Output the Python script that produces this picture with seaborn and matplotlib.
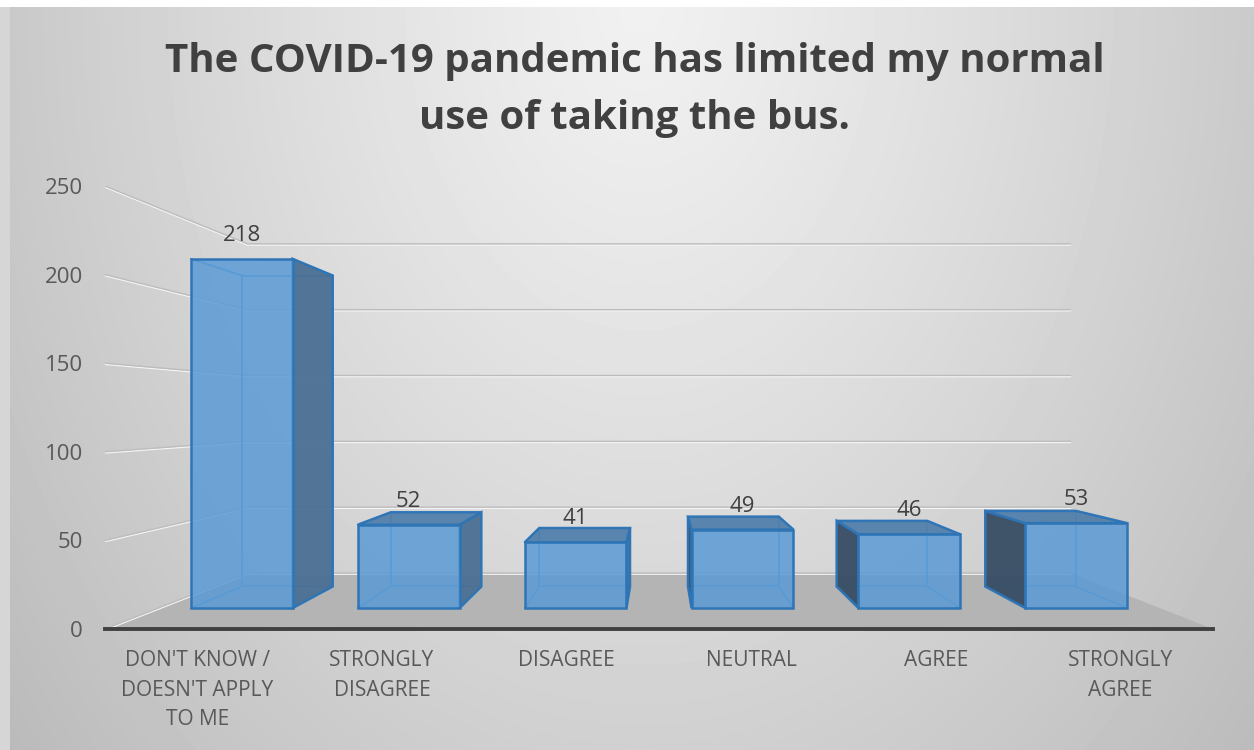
import numpy as np
import seaborn as sns
import matplotlib.pyplot as plt
from matplotlib.patches import Polygon, Rectangle
from matplotlib.transforms import Affine2D, offset_copy

# dados
categorias = ["DON'T KNOW /\nDOESN'T APPLY\nTO ME", "STRONGLY\nDISAGREE", "DISAGREE",
              "NEUTRAL", "AGREE", "STRONGLY\nAGREE"]
respostas = [218, 52, 41, 49, 46, 53]
ticks_y = [0, 50, 100, 150, 200, 250]
titulo = "The COVID-19 pandemic has limited my normal\nuse of taking the bus."

sns.set_theme(style='white')
plt.rcParams['font.family'] = ['Open Sans', 'DejaVu Sans']

fig = plt.figure(figsize=(12.54, 7.5), dpi=100)

# fundo com degradê cinza
bg = fig.add_axes([0, 0, 1, 1], zorder=-5)
yy, xx = np.mgrid[0:750, 0:1254]
r = np.sqrt(((xx - 640) / 640.0) ** 2 + (yy / 900.0) ** 2)
v = np.clip(0.945 - 0.16 * r ** 1.15, 0, 1)
bg.imshow(v, cmap='gray', vmin=0, vmax=1, extent=(0, 1, 0, 1), aspect='auto')
bg.axis('off')
fig.patches.append(Rectangle((0, 1 - 7 / 750), 1, 7 / 750, transform=fig.transFigure,
                             facecolor='white', edgecolor='none', zorder=-4))
fig.patches.append(Rectangle((0, 0), 10 / 1254, 1 - 7 / 750, transform=fig.transFigure,
                             facecolor='#d6d6d6', edgecolor='none', zorder=-4))

ax = fig.add_axes([105 / 1254, 121 / 750, 1108 / 1254, 443 / 750])
ax.set_facecolor('none')

sns.barplot(x=categorias, y=respostas, width=0.61, color='#5b9bd5', ax=ax)
barras = list(ax.containers[0])
ax.set_xlim(-0.5, 5.5)
ax.set_ylim(0, 250)

# perspectiva simples (ponto de fuga)
vp = (2.5, 123)
s_front, s_back, s_wall = 0.904, 0.805, 0.743


def persp(s):
    return Affine2D().translate(-vp[0], -vp[1]).scale(s).translate(vp[0], vp[1])


def proj(x, y, s):
    return (vp[0] + (x - vp[0]) * s, vp[1] + (y - vp[1]) * s)


# chão
chao = [proj(-0.5, 0, 1), proj(5.5, 0, 1), proj(5.5, 0, s_wall), proj(-0.5, 0, s_wall)]
ax.add_patch(Polygon(chao, closed=True, facecolor='#b4b4b4', edgecolor='none', zorder=1))

# linhas de grade (parede do fundo e lateral)
t_claro = offset_copy(ax.transData, fig=fig, x=0, y=-1.2, units='dots')
for t in ticks_y:
    pts = [proj(-0.5, t, 1), proj(-0.5, t, s_wall), proj(5.5, t, s_wall)]
    xs, ys = zip(*pts)
    ax.plot(xs, ys, color='#f4f4f4', lw=1.0, transform=t_claro, zorder=1.2)
    ax.plot(xs, ys, color='#bdbdbd', lw=1.0, zorder=1.3)

# barras em 3D
for patch, val in zip(barras, respostas):
    x0, w, h = patch.get_x(), patch.get_width(), patch.get_height()
    f = [proj(x0, 0, s_front), proj(x0 + w, 0, s_front), proj(x0 + w, h, s_front), proj(x0, h, s_front)]
    b = [proj(x0, 0, s_back), proj(x0 + w, 0, s_back), proj(x0 + w, h, s_back), proj(x0, h, s_back)]

    ax.add_patch(Polygon(b, closed=True, facecolor='none', edgecolor='#4f92d3', lw=1.2, zorder=2))
    for pf, pb in zip(f, b):
        ax.plot([pf[0], pb[0]], [pf[1], pb[1]], color='#4f92d3', lw=1.2, zorder=2)

    if b[1][0] > f[1][0]:
        ax.add_patch(Polygon([f[1], b[1], b[2], f[2]], closed=True, facecolor='#4a6f94',
                             edgecolor='#2e75b6', lw=1.8, alpha=0.95, zorder=3))
    if b[0][0] < f[0][0]:
        ax.add_patch(Polygon([f[0], b[0], b[3], f[3]], closed=True, facecolor='#374d64',
                             edgecolor='#2e75b6', lw=1.8, alpha=0.95, zorder=3))
    if b[3][1] > f[3][1]:
        ax.add_patch(Polygon([f[3], f[2], b[2], b[3]], closed=True, facecolor='#5280ab',
                             edgecolor='#2e75b6', lw=1.8, alpha=0.95, zorder=3))

    patch.set_transform(persp(s_front) + ax.transData)
    patch.set_facecolor((0.357, 0.608, 0.835, 0.85))
    patch.set_edgecolor('#2e75b6')
    patch.set_linewidth(1.8)
    patch.set_zorder(4)

    ax.annotate(str(val), xy=(x0 + w / 2, h), xycoords=persp(s_front) + ax.transData,
                xytext=(0, 13), textcoords='offset points', ha='center', va='baseline',
                fontsize=16, color='#404040', zorder=5)

# eixos
for lado in ['left', 'right', 'top']:
    ax.spines[lado].set_visible(False)
ax.spines['bottom'].set_color('#404040')
ax.spines['bottom'].set_linewidth(2.8)
ax.spines['bottom'].set_zorder(6)
ax.set_yticks(ticks_y)
ax.tick_params(axis='y', length=0, pad=16, labelsize=16, labelcolor='#595959')
ax.tick_params(axis='x', length=0, pad=15, labelsize=15, labelcolor='#595959')
for lbl in ax.get_xticklabels():
    lbl.set_linespacing(1.55)
ax.set_xlabel('')
ax.set_ylabel('')

fig.text(0.506, 1 - 90 / 750, titulo, ha='center', va='center', fontsize=29,
         fontweight='bold', color='#404040', linespacing=1.58)

plt.savefig('out.png', dpi=100)
